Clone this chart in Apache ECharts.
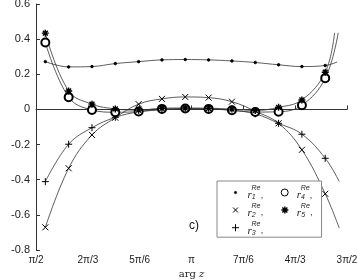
<!DOCTYPE html>
<html><head><meta charset="utf-8">
<script src="https://cdn.jsdelivr.net/npm/echarts@6/dist/echarts.min.js"></script>
<style>html,body{margin:0;padding:0;background:#fff}#c{width:357px;height:279px}</style>
</head><body><div id="c"></div>
<script>
// x in units of pi/6
const xTickLabels = ['π/2','2π/3','5π/6','π','7π/6','4π/3','3π/2'];
const xMarks = [3.18, 3.63, 4.08, 4.53, 4.98, 5.43, 5.88, 6.33, 6.78, 7.23, 7.68, 8.13, 8.58];
const r1 = [0.272, 0.242, 0.244, 0.261, 0.272, 0.282, 0.284, 0.282, 0.276, 0.267, 0.254, 0.244, 0.250];
const r2 = [-0.671, -0.335, -0.145, -0.047, 0.030, 0.060, 0.071, 0.067, 0.044, -0.010, -0.079, -0.230, -0.480];
const r3 = [-0.411, -0.198, -0.104, -0.045, -0.014, -0.003, 0.003, 0.003, -0.005, -0.025, -0.079, -0.141, -0.278];
const r4 = [0.381, 0.070, -0.003, -0.016, -0.012, 0.003, 0.005, 0.003, -0.005, -0.015, -0.013, 0.024, 0.178];
const r5 = [0.434, 0.105, 0.030, 0.003, -0.004, 0.007, 0.008, 0.007, 0.002, -0.006, 0.012, 0.054, 0.212];
// right-hand ends of the fitted curves (no marker)
const r1End = [8.81, 0.270];
const r2End = [8.85, -0.675];
const r3End = [8.85, -0.410];
const r4End = [8.83, 0.436];
const r5End = [8.76, 0.436];

function build(vals, end) {
  const d = xMarks.map((x, i) => [x, vals[i]]);
  d.push({ value: end, symbol: 'none' });
  return d;
}

const P_CROSS = 'path://M0,0L10,10M10,0L0,10';
const P_PLUS = 'path://M5,0L5,10M0,5L10,5';
const P_STAR = 'path://M5,0L5,10M0,5L10,5M1.5,1.5L8.5,8.5M8.5,1.5L1.5,8.5';
const L_DOT = 'path://M0,0M14,14M5.8,7a1.2,1.2 0 1,0 2.4,0a1.2,1.2 0 1,0 -2.4,0Z';
const L_CROSS = 'path://M0,0M14,14M4.5,4.5L9.5,9.5M9.5,4.5L4.5,9.5';
const L_PLUS = 'path://M0,0M14,14M7,3.5L7,10.5M3.5,7L10.5,7';
const L_CIRC = 'path://M0,0M14,14M3.5,7a3.5,3.5 0 1,0 7,0a3.5,3.5 0 1,0 -7,0Z';
const L_STAR = 'path://M0,0M14,14M7,3.5L7,10.5M3.5,7L10.5,7M4.5,4.5L9.5,9.5M9.5,4.5L4.5,9.5';

const lineStyle = { color: '#333', width: 0.8 };
function series(name, vals, end, symbol, size, extra) {
  return Object.assign({
    name, type: 'line', data: build(vals, end), smooth: 0.4,
    symbol, symbolSize: size, showAllSymbol: true,
    lineStyle, itemStyle: { color: '#000', borderColor: '#000', borderWidth: 1 },
    emphasis: { disabled: true }, z: 3
  }, extra || {});
}

const subIdx = { r1: '1', r2: '2', r3: '3', r4: '4', r5: '5' };

const chart = echarts.init(document.getElementById('c'));
chart.setOption({
  animation: false,
  grid: { left: 36, right: 10, top: 4, bottom: 29, containLabel: false, outerBoundsMode: 'none' },
  xAxis: {
    type: 'value', min: 3, max: 9, interval: 1,
    axisLine: { lineStyle: { color: '#333', width: 1 } },
    axisTick: { inside: true, length: 4, lineStyle: { color: '#333' } },
    splitLine: { show: false },
    axisLabel: { margin: 5, fontSize: 10, color: '#222', fontFamily: 'Liberation Sans',
      formatter: v => xTickLabels[Math.round(v) - 3] },
    name: '{a|arg }{z|z}', nameLocation: 'middle', nameGap: 19,
    nameTextStyle: { rich: {
      a: { fontFamily: 'DejaVu Serif', fontSize: 10, color: '#222' },
      z: { fontFamily: 'DejaVu Serif', fontStyle: 'italic', fontSize: 10, color: '#222' } } }
  },
  yAxis: {
    type: 'value', min: -0.8, max: 0.6, interval: 0.2,
    axisLine: { show: true, lineStyle: { color: '#333', width: 1 } },
    axisTick: { show: true, inside: true, length: 4, lineStyle: { color: '#333' } },
    splitLine: { show: false },
    axisLabel: { margin: 6, fontSize: 11, color: '#222', fontFamily: 'Liberation Sans',
      formatter: v => { const r = Math.round(v * 10) / 10; return r === 0 ? '0' : r.toFixed(1); } },
    name: '{R|ℜ}{E|E}{s|ρ,μ}{p|(}{z|z}{p|)}', nameLocation: 'middle', nameGap: 22,
    nameTextStyle: { padding: [0, 0, 0, 30], rich: {
      R: { fontFamily: 'DejaVu Serif', fontSize: 11, color: '#222' },
      E: { fontFamily: 'DejaVu Serif', fontStyle: 'italic', fontSize: 11, color: '#222' },
      s: { fontFamily: 'DejaVu Serif', fontStyle: 'italic', fontSize: 7, color: '#222', padding: [5, 0, 0, 0] },
      p: { fontFamily: 'DejaVu Serif', fontSize: 11, color: '#222' },
      z: { fontFamily: 'DejaVu Serif', fontStyle: 'italic', fontSize: 11, color: '#222' } } }
  },
  legend: {
    left: 217, top: 181, width: 92, orient: 'horizontal',
    padding: [4, 4, 1, 11], itemGap: 1.5, itemWidth: 14, itemHeight: 14,
    borderColor: '#888', borderWidth: 1, backgroundColor: '#fff',
    selectedMode: false,
    data: [
      { name: 'r1', icon: L_DOT, itemStyle: { color: '#000', borderColor: '#000', borderWidth: 0.5 } },
      { name: 'r4', icon: L_CIRC, itemStyle: { color: '#fff', borderColor: '#000', borderWidth: 1 } },
      { name: 'r2', icon: L_CROSS, itemStyle: { color: '#000', borderColor: '#000', borderWidth: 1 } },
      { name: 'r5', icon: L_STAR, itemStyle: { color: '#000', borderColor: '#000', borderWidth: 1.4 } },
      { name: 'r3', icon: L_PLUS, itemStyle: { color: '#000', borderColor: '#000', borderWidth: 1 } }
    ],
    formatter: name => '{p|}{s|Re}\n{r|r}{b|' + subIdx[name] + '}{c|,}' + (['r1','r2','r3'].includes(name) ? '{g|}' : '{h|}'),
    textStyle: { fontSize: 7, lineHeight: 6, rich: {
      p: { width: 4, height: 6, lineHeight: 6 },
      s: { fontFamily: 'Liberation Sans', fontStyle: 'italic', fontSize: 7, color: '#222', lineHeight: 6 },
      r: { fontFamily: 'Liberation Serif', fontStyle: 'italic', fontSize: 11, color: '#222', lineHeight: 8 },
      b: { fontFamily: 'Liberation Sans', fontStyle: 'italic', fontSize: 7, color: '#222', lineHeight: 4, padding: [4, 0, 0, 0] },
      c: { fontFamily: 'Liberation Sans', fontSize: 9, color: '#222', lineHeight: 8, padding: [0, 0, 0, 5] },
      g: { width: 12.5, lineHeight: 8 },
      h: { width: 5, lineHeight: 8 }
    } }
  },
  graphic: [{ type: 'text', left: 189, top: 220,
    style: { text: 'c)', fontFamily: 'Liberation Sans', fontSize: 12, fill: '#111' } }],
  series: [
    series('r1', r1, r1End, 'circle', 2.5),
    series('r2', r2, r2End, P_CROSS, 6),
    series('r3', r3, r3End, P_PLUS, 7),
    series('r4', r4, r4End, 'emptyCircle', 8, { itemStyle: { color: '#000', borderColor: '#000', borderWidth: 1 } }),
    series('r5', r5, r5End, P_STAR, 7, { itemStyle: { color: '#000', borderColor: '#000', borderWidth: 1.4 } })
  ]
});
</script></body></html>
